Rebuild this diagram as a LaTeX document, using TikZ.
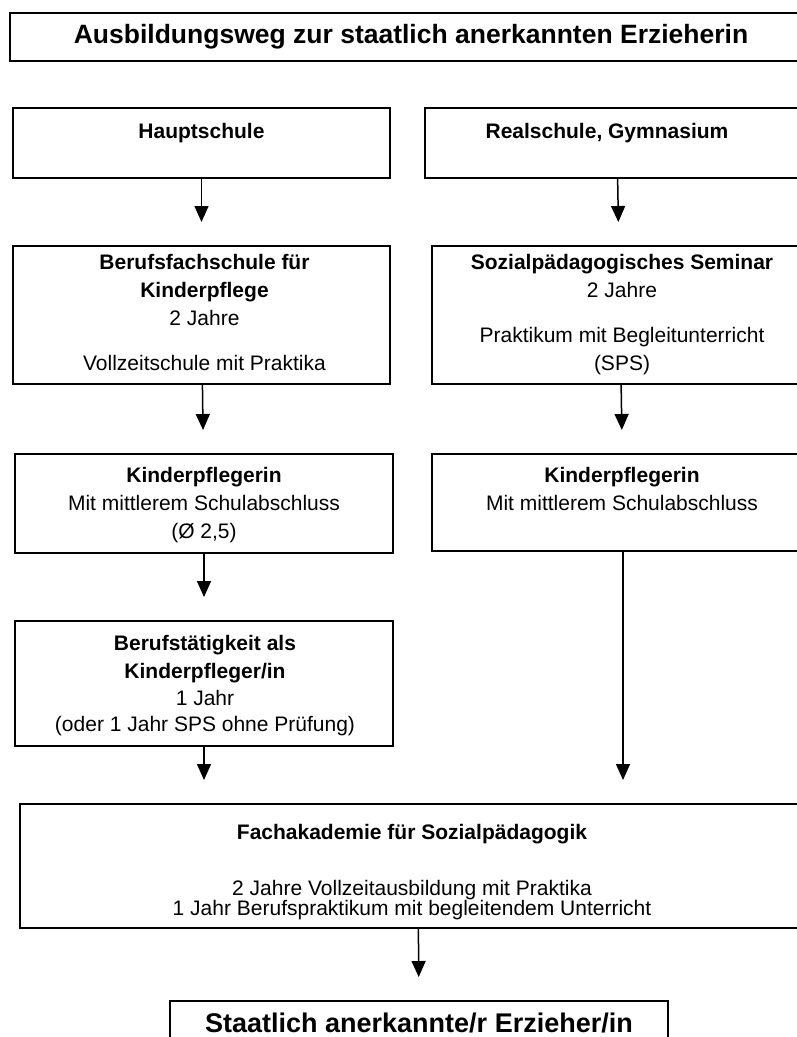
\documentclass[tikz,border=0pt]{standalone}
\usepackage{fontspec}
\setmainfont{Liberation Sans}
\usetikzlibrary{arrows.meta, positioning, calc}

\begin{document}
\begin{tikzpicture}[x=1pt, y=-1pt,
    kasten/.style={draw, line width=1.5pt, inner sep=0pt, anchor=north},
    inhalt/.style={anchor=north, inner sep=0pt, align=center, font=\fontsize{21}{28}\selectfont},
    pfeil/.style={line width=1.5pt, -{Triangle[width=14pt,length=16pt]}, shorten >=23pt}]
    \useasboundingbox (0,0) rectangle (797,1037);
    \clip (0,0) rectangle (797,1037);
    %
    \node[kasten, minimum width=802, minimum height=48, font=\bfseries\fontsize{26.5}{30}\selectfont] (titel) at (411,12) {Ausbildungsweg zur staatlich anerkannten Erzieherin};
    %
    \node[kasten, minimum width=377, minimum height=70] (haupt) at (201.5,107) {};
    \node[kasten, minimum width=377, minimum height=138] (bfs) at (201.5,245) {};
    \node[kasten, minimum width=378, minimum height=99] (kpl) at (204,453) {};
    \node[kasten, minimum width=378, minimum height=125] (btk) at (204,620) {};
    %
    \node[kasten, minimum width=384, minimum height=70] (real) at (617,107) {};
    \node[kasten, minimum width=376, minimum height=138] (sps) at (620,245) {};
    \node[kasten, minimum width=382, minimum height=97] (kpr) at (623,453) {};
    %
    \node[kasten, minimum width=796, minimum height=124] (fak) at (418,803) {};
    \node[kasten, minimum width=498, minimum height=44, font=\bfseries\fontsize{27}{30}\selectfont] (ziel) at (419,1000) {Staatlich anerkannte/r Erzieher/in};
    %
    \node[inhalt] (hauptT) at ([yshift=-16.5]haupt.north) {\textbf{Hauptschule}};
    \node[inhalt] (bfsT) at ([xshift=3,yshift=-9.5]bfs.north) {\textbf{Berufsfachschule für}\\\textbf{Kinderpflege}\\2 Jahre\\[17pt]Vollzeitschule mit Praktika};
    \node[inhalt] (kplT) at ([yshift=-14.5]kpl.north) {\textbf{Kinderpflegerin}\\Mit mittlerem Schulabschluss\\(Ø 2,5)};
    \node[inhalt] (btkT) at ([xshift=1,yshift=-15.5]btk.north) {\textbf{Berufstätigkeit als}\\\textbf{Kinderpfleger/in}\\[-1pt]1 Jahr\\[-2pt](oder 1 Jahr SPS ohne Prüfung)};
    \node[inhalt] (realT) at ([xshift=-10,yshift=-16.5]real.north) {\textbf{Realschule, Gymnasium}};
    \node[inhalt] (spsT) at ([xshift=2,yshift=-9.5]sps.north) {\textbf{Sozialpädagogisches Seminar}\\2 Jahre\\[17pt]Praktikum mit Begleitunterricht\\(SPS)};
    \node[inhalt] (kprT) at ([xshift=-1,yshift=-14.5]kpr.north) {\textbf{Kinderpflegerin}\\Mit mittlerem Schulabschluss};
    \node[inhalt] (fakT) at ([xshift=-6,yshift=-21.5]fak.north) {\textbf{Fachakademie für Sozialpädagogik}\\[28pt]2 Jahre Vollzeitausbildung mit Praktika\\[-8pt]1 Jahr Berufspraktikum mit begleitendem Unterricht};
    %
    \draw[pfeil] (haupt) -- (bfs);
    \draw[pfeil] (bfs) -- (kpl);
    \draw[pfeil] (kpl) -- (btk);
    \draw[pfeil] (btk.south) -- (btk.south |- fak.north);
    \draw[pfeil] (real) -- (sps);
    \draw[pfeil] (sps) -- (kpr);
    \draw[pfeil] (kpr.south) -- (kpr.south |- fak.north);
    \draw[pfeil] (fak) -- (ziel);
\end{tikzpicture}
\end{document}
